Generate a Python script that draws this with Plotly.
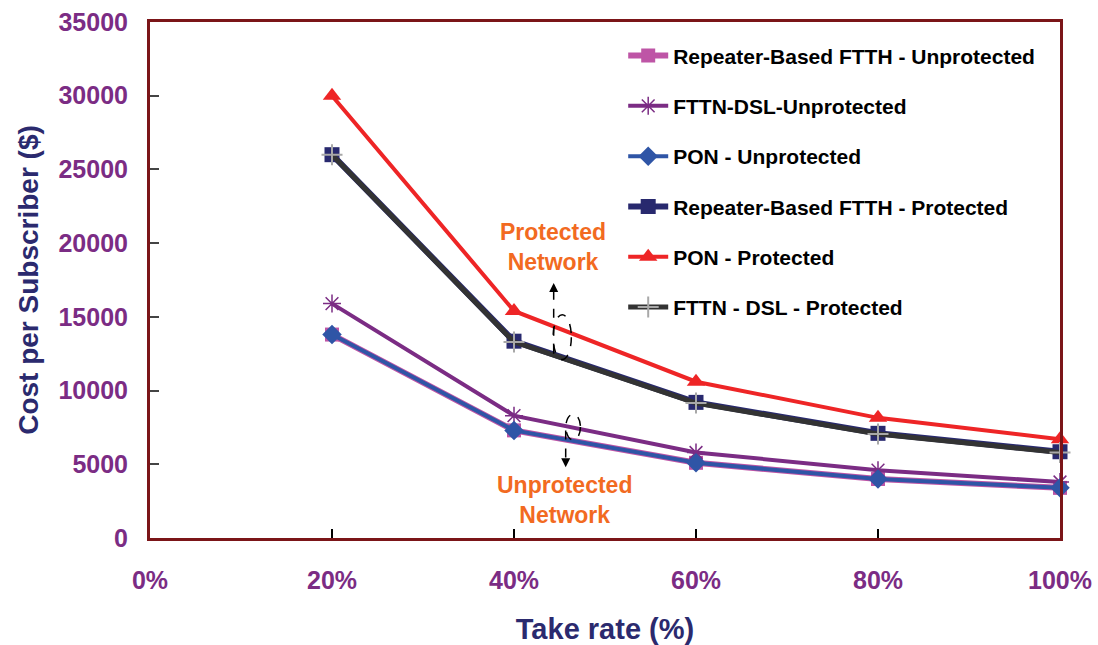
import plotly.graph_objects as go

# Take rate (%) and cost per subscriber ($) for each architecture
take_rate = [20, 40, 60, 80, 100]

repeater_unprot = [13800, 7300, 5100, 4000, 3400]
fttn_dsl_unprot = [15900, 8300, 5800, 4600, 3800]
pon_unprot = [13800, 7300, 5100, 4000, 3400]
repeater_prot = [26000, 13350, 9200, 7100, 5850]
pon_prot = [30000, 15400, 10600, 8150, 6700]
fttn_dsl_prot = [26000, 13300, 9150, 7050, 5800]

x_ticks = [0, 20, 40, 60, 80, 100]
x_tick_labels = ["0%", "20%", "40%", "60%", "80%", "100%"]
y_ticks = [0, 5000, 10000, 15000, 20000, 25000, 30000, 35000]
y_tick_labels = ["0", "5000", "10000", "15000", "20000", "25000", "30000", "35000"]

FONT = "Liberation Sans, Arial, sans-serif"
FRAME = "#7B1518"
TICK_PURPLE = "#7B2C84"
TITLE_NAVY = "#2B2A6E"
ORANGE = "#F26A21"

series = [
    ("Repeater-Based FTTH - Unprotected", repeater_unprot, "#BE55A6", 6,
     dict(symbol="square", size=14, color="#BE55A6")),
    ("FTTN-DSL-Unprotected", fttn_dsl_unprot, "#7B2C84", 4,
     dict(symbol="asterisk-open", size=15, color="#7B2C84",
          line=dict(color="#7B2C84", width=1.5))),
    ("PON - Unprotected", pon_unprot, "#2F55A6", 4,
     dict(symbol="diamond", size=15, color="#2F55A6")),
    ("Repeater-Based FTTH - Protected", repeater_prot, "#28296E", 6,
     dict(symbol="square", size=15, color="#28296E")),
    ("PON - Protected", pon_prot, "#EE2526", 4,
     dict(symbol="triangle-up", size=16, color="#EE2526")),
    ("FTTN - DSL - Protected", fttn_dsl_prot, "#333333", 5,
     dict(symbol="cross-thin-open", size=15, color="#A8A8A8",
          line=dict(color="#A8A8A8", width=2))),
]

fig = go.Figure()
for i, (name, vals, color, width, marker) in enumerate(series):
    fig.add_trace(go.Scatter(
        x=take_rate, y=vals, name=name, mode="lines+markers",
        line=dict(color=color, width=width),
        marker=marker, cliponaxis=False, legendgroup=f"g{i}",
    ))

# Dashed arrows and ellipses grouping the protected / unprotected curves
dash = dict(color="black", width=1.5, dash="dash")
fig.add_shape(type="line", xref="x", yref="y", x0=44.36, x1=44.36,
              y0=12500, y1=16900, line=dash)
fig.add_shape(type="circle", xref="x", yref="y", x0=44.3, x1=46.3,
              y0=12100, y1=15150, line=dash)
fig.add_shape(type="line", xref="x", yref="y", x0=45.68, x1=45.68,
              y0=7300, y1=5200, line=dash)
fig.add_shape(type="circle", xref="x", yref="y", x0=45.7, x1=47.3,
              y0=6650, y1=8400, line=dash)
fig.add_annotation(x=44.36, y=17300, xref="x", yref="y", text="",
                   showarrow=True, ax=0, ay=9, arrowhead=2, arrowsize=1.2,
                   arrowwidth=1.5, arrowcolor="black")
fig.add_annotation(x=45.68, y=4800, xref="x", yref="y", text="",
                   showarrow=True, ax=0, ay=-9, arrowhead=2, arrowsize=1.2,
                   arrowwidth=1.5, arrowcolor="black")

fig.add_annotation(x=44.3, y=19750, xref="x", yref="y",
                   text="<b>Protected<br>Network</b>", showarrow=False,
                   font=dict(family=FONT, size=23, color=ORANGE))
fig.add_annotation(x=45.6, y=2590, xref="x", yref="y",
                   text="<b>Unprotected<br>Network</b>", showarrow=False,
                   font=dict(family=FONT, size=23, color=ORANGE))

fig.update_layout(
    width=1098, height=645,
    margin=dict(l=150, r=38, t=22, b=107),
    paper_bgcolor="white", plot_bgcolor="white",
    font=dict(family=FONT),
    showlegend=True,
    legend=dict(
        x=0.52, y=0.974, xanchor="left", yanchor="top",
        bgcolor="rgba(0,0,0,0)", borderwidth=0,
        font=dict(family=FONT, size=21, color="black", weight="bold"),
        itemwidth=40, tracegroupgap=20,
    ),
    xaxis=dict(
        range=[0, 100], tickmode="array", tickvals=x_ticks,
        ticktext=x_tick_labels, automargin=False,
        showgrid=False, zeroline=False,
        showline=True, linecolor=FRAME, linewidth=3, mirror=True,
        ticks="inside", ticklen=9, tickcolor="#000000", tickwidth=2,
        ticklabelstandoff=18, layer="above traces",
        tickfont=dict(family=FONT, size=25, color=TICK_PURPLE, weight="bold"),
        title=dict(text="<b>Take rate (%)</b>", standoff=26,
                   font=dict(family=FONT, size=29, color=TITLE_NAVY)),
    ),
    yaxis=dict(
        range=[0, 35000], tickmode="array", tickvals=y_ticks,
        ticktext=y_tick_labels, automargin=False,
        showgrid=False, zeroline=False,
        showline=True, linecolor=FRAME, linewidth=3, mirror=True,
        ticks="inside", ticklen=9, tickcolor="#444444", tickwidth=2,
        ticklabelstandoff=14, layer="above traces",
        tickfont=dict(family=FONT, size=25, color=TICK_PURPLE, weight="bold"),
        title=dict(text="<b>Cost per Subscriber ($)</b>", standoff=12,
                   font=dict(family=FONT, size=28, color=TITLE_NAVY)),
    ),
)

fig.write_html("out.html")
